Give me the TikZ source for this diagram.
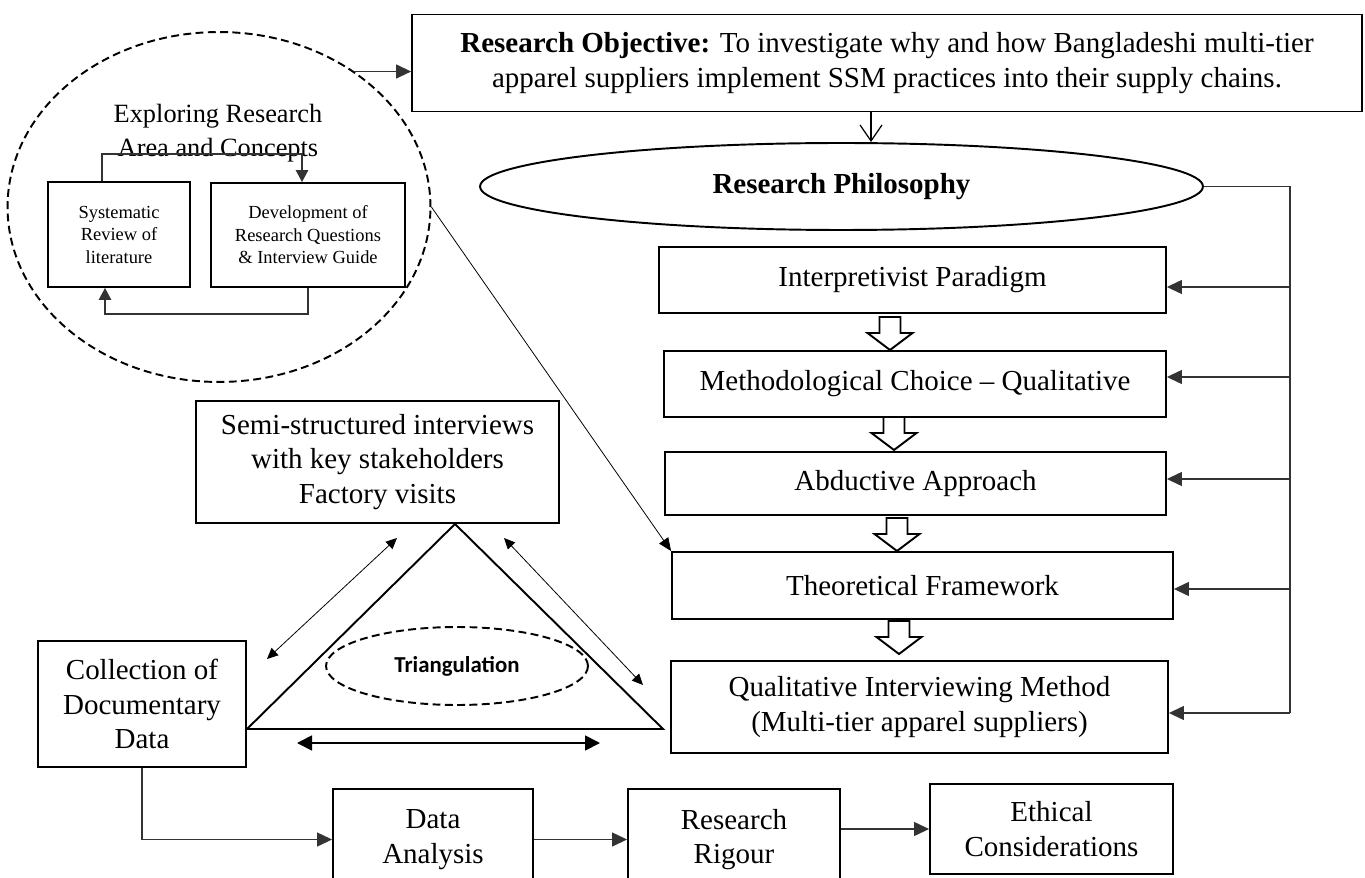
\documentclass[tikz,border=0pt]{standalone}
\usepackage{fontspec}
\setmainfont{Liberation Serif}
\newfontfamily\calibri{Carlito}
\usetikzlibrary{positioning, arrows.meta, calc, shapes.geometric}

\begin{document}
\begin{tikzpicture}[x=0.02cm, y=-0.02cm, >={Triangle[length=3mm,width=2.8mm]},
  mainbox/.style={draw, line width=1.1pt, align=center, inner sep=0pt, font=\fontsize{16.5}{19.5}\selectfont},
  subbox/.style={draw, line width=1.1pt, align=center, inner sep=0pt, font=\fontsize{10.5}{12.8}\selectfont},
  dashes/.style={dash pattern=on 4.5pt off 2.5pt},
  link/.style={->, black!80, line width=0.7pt},
  loop/.style={->, black!80, line width=0.7pt, >={Triangle[length=2.4mm,width=2.5mm]}},
  twoway/.style={<->, line width=0.45pt, >={Triangle[length=2.2mm,width=2mm]}},
  hollow/.style={draw, line width=1.1pt, fill=white, line join=miter}]
\useasboundingbox (0,0) rectangle (1365,878);
% objective and research philosophy
\node[mainbox, minimum width=19cm, minimum height=1.94cm] (obj) at (887,63)
  {\textbf{Research Objective:} To investigate why and how Bangladeshi multi-tier\\apparel suppliers implement SSM practices into their supply chains.};
\node[ellipse, draw, line width=1.1pt, inner sep=0pt, minimum width=14.46cm, minimum height=1.74cm,
  font=\fontsize{16.5}{19.5}\selectfont\bfseries] (phil) at (841.5,186.5) {Research Philosophy};
\node[mainbox, minimum width=10.14cm, minimum height=1.32cm] (ip)  at (912.5,280) {Interpretivist Paradigm};
\node[mainbox, minimum width=10.04cm, minimum height=1.32cm] (mc)  at (915,384)   {Methodological Choice -- Qualitative};
\node[mainbox, minimum width=10.02cm, minimum height=1.26cm] (aa)  at (915.5,483.5) {Abductive Approach};
\node[mainbox, minimum width=10.02cm, minimum height=1.34cm] (tf)  at (922.5,585.5) {Theoretical Framework};
\node[mainbox, minimum width=9.94cm,  minimum height=1.84cm] (qim) at (919.5,707) {Qualitative Interviewing Method\\(Multi-tier apparel suppliers)};
\foreach \x/\y in {890/317, 894/417, 897/518, 899/621}
  \draw[hollow] (\x-10.5,\y) -- ++(21,0) -- ++(0,16) -- ++(12,0) -- (\x,\y+33) -- ++(-22.5,-17) -- ++(12,0) -- cycle;
\coordinate (rail) at (1290,713);
\draw[black!80, line width=0.7pt] (phil.east) -| (rail);
\foreach \b/\d in {ip/-0.14, mc/0.14, aa/0.09, tf/-0.07, qim/-0.12}
  \draw[link] ([yshift=\d cm]rail |- \b.east) -- ([yshift=\d cm]\b.east);
\coordinate (o1) at ([xshift=-0.32cm]obj.south);
\draw[->, >={Straight Barb[length=3.2mm,width=4.4mm]}, line width=0.7pt] (o1) -- (o1 |- phil.north);

% exploring research area
\node[ellipse, draw, dashes, line width=1.1pt, inner sep=0pt, minimum width=8.46cm, minimum height=7cm] (explore) at (219,207) {};
\node[align=center, font=\fontsize{15}{19.3}\selectfont] (exptitle) at (218,133) {Exploring Research\\Area and Concepts};
\node[subbox, minimum width=2.84cm, minimum height=2.1cm] (sys) at (119,234.5) {Systematic\\Review of\\literature};
\node[subbox, minimum width=3.88cm, minimum height=2.08cm] (dev) at (308,235) {Development of\\Research Questions\\\& Interview Guide};
\draw[loop] ([xshift=-0.34cm]sys.north) -- ++(0,-27) -| ([xshift=-0.12cm]dev.north);
\draw[loop] (dev.south) -- ++(0,26) -| ([xshift=-0.28cm]sys.south);
\draw[link] (explore.45.6) -- (explore.45.6 -| obj.west);
\draw[->, line width=0.45pt, >={Triangle[length=2.6mm,width=2.2mm]}] (explore.east) -- (tf.north west);

% triangulation
\node[mainbox, minimum width=7.26cm, minimum height=2.44cm] (semi) at (377.5,462) {Semi-structured interviews\\with key stakeholders\\Factory visits};
\node[mainbox, minimum width=4.16cm, minimum height=2.52cm] (coll) at (142,704) {Collection of\\Documentary\\Data};
\coordinate (apex) at (455,524);
\coordinate (bl) at (247,729);
\coordinate (br) at (663,729);
\draw[line width=1.1pt, line join=miter] (apex) -- (br) -- (bl) -- cycle;
\node[ellipse, draw, dashes, line width=1.1pt, inner sep=0pt, minimum width=5.24cm, minimum height=1.56cm,
  font=\calibri\bfseries\fontsize{13}{15}\selectfont] (trig) at (457,666) {Triangulation};
\coordinate (l1) at (267,659); \coordinate (l2) at (397,538);
\coordinate (r1) at (504,538); \coordinate (r2) at (643,685);
\coordinate (b1) at (297,743); \coordinate (b2) at (600,743);
\draw[twoway] (l1) -- (l2);
\draw[twoway] (r1) -- (r2);
\draw[<->, line width=1pt, >={Triangle[length=3mm,width=3mm]}] (b1) -- (b2);

% analysis row
\node[mainbox, minimum width=4cm,    minimum height=2.02cm] (da) at (433,839.5) {Data\\Analysis};
\node[mainbox, minimum width=4.24cm, minimum height=2.02cm] (rr) at (734,839.5) {Research\\Rigour};
\node[mainbox, minimum width=4.86cm, minimum height=1.8cm]  (ec) at (1051.5,829) {Ethical\\Considerations};
\draw[link] (coll.south) |- (da.west);
\draw[link] (da.east) -- (rr.west);
\draw[link] (rr.east |- ec.west) -- (ec.west);
\end{tikzpicture}
\end{document}
